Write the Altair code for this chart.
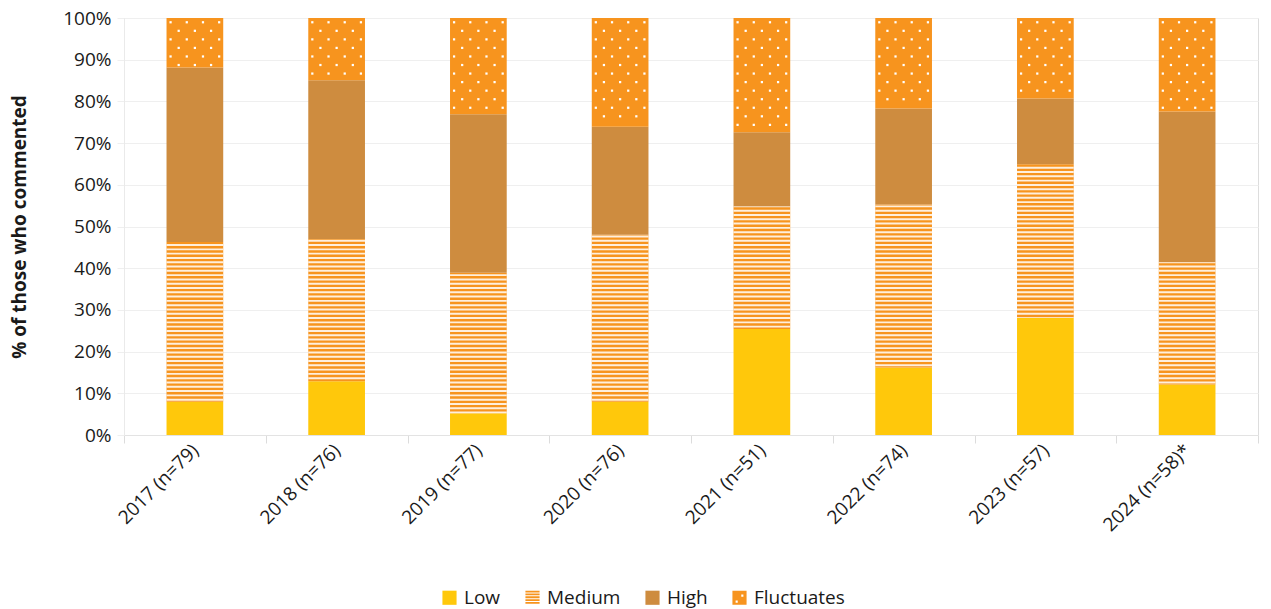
import altair as alt
import pandas as pd

# ---- data ----
years = ["2017 (n=79)", "2018 (n=76)", "2019 (n=77)", "2020 (n=76)",
         "2021 (n=51)", "2022 (n=74)", "2023 (n=57)", "2024 (n=58)*"]
categories = ["Low", "Medium", "High", "Fluctuates"]
low = [8.0, 12.9, 5.2, 8.0, 25.4, 16.2, 28.1, 12.1]
medium = [38.3, 34.1, 33.7, 40.0, 29.4, 39.1, 36.8, 29.3]
high = [41.8, 38.1, 38.0, 25.9, 17.8, 23.0, 15.8, 36.2]
fluctuates = [11.9, 14.9, 23.1, 26.1, 27.4, 21.7, 19.3, 22.4]
y_ticks = [0, 10, 20, 30, 40, 50, 60, 70, 80, 90, 100]

colors = ["#FFC80B", "#F7941E", "#CE8C3F", "#F7941E"]

# legend swatch shapes (plain square, striped square, square, square with dots)
SQUARE = "M-1,-1H1V1H-1Z"
STRIPED = " ".join(
    f"M-1,{-1 + j * 0.4:.2f}H1V{-1 + j * 0.4 + 0.26:.2f}H-1Z" for j in range(5))
DOTTED = ("M-1,-1H1V1H-1Z "
          "M0.25,-0.45V-0.15H0.55V-0.45Z "
          "M-0.55,0.4V0.7H-0.25V0.4Z")
shapes = [SQUARE, STRIPED, SQUARE, DOTTED]

BAR_FRAC = 0.4   # bar width as a share of the category slot

# ---- segment table ----
rows = []
for i, yr in enumerate(years):
    vals = [low[i], medium[i], high[i], fluctuates[i]]
    start = 0.0
    for c, v in zip(categories, vals):
        rows.append({"year": yr, "category": c, "start": start, "end": start + v,
                     "order": categories.index(c)})
        start += v
seg = pd.DataFrame(rows)

# ---- stripe texture for "Medium" (white gaps on orange) ----
P = 1.03
stripes = []
for i, yr in enumerate(years):
    s = low[i]
    e = low[i] + medium[i]
    k = 0
    while k * P < 100:
        a = k * P
        b = a + 0.45 * P
        lo, hi = max(a, s), min(b, e)
        if hi - lo > 0.05:
            stripes.append({"year": yr, "y0": lo, "y1": hi})
        k += 1
stripes = pd.DataFrame(stripes)

# ---- dot texture for "Fluctuates" (position in category-index units) ----
R = 2.05
NCOL = 7
dots = []
for i, yr in enumerate(years):
    b = low[i] + medium[i] + high[i]
    r = 0
    while True:
        yv = 100 - (r + 0.5) * R
        if yv < b + 0.6:
            break
        cols = [0, 2, 4, 6] if r % 2 == 0 else [1, 3, 5]
        for c in cols:
            xpos = i + 0.5 - BAR_FRAC / 2 + (c + 0.5) * BAR_FRAC / NCOL
            dots.append({"year": yr, "xpos": xpos, "y": yv})
        r += 1
dots = pd.DataFrame(dots)

FONT = "Open Sans"
TXT = "#1a1a1a"

x_scale = alt.Scale(type="band", domain=years, paddingInner=0, paddingOuter=0)
x_enc = alt.X("year:N", sort=years, title=None, scale=x_scale,
              axis=alt.Axis(labelAngle=-45, labelFontSize=19, labelColor=TXT,
                            labelFont=FONT, tickBand="extent", tickColor="#DCDCDC",
                            tickSize=8, domainColor="#E3E3E3", labelPadding=4))
x_plain = alt.X("year:N", sort=years, scale=x_scale)
y_scale = alt.Scale(domain=[0, 100], nice=False)

legend = alt.Legend(
    title=None, orient="none", direction="horizontal", legendX=316, legendY=570,
    symbolSize=200, symbolStrokeWidth=0, symbolOpacity=1,
    labelFontSize=19, labelFont=FONT, labelColor=TXT, labelOffset=5,
    columnPadding=22,
)

# invisible points that carry the legend (colour + swatch shape)
legend_layer = alt.Chart(seg).mark_point(filled=True, size=0, opacity=1).encode(
    x=x_plain,
    y=alt.Y("start:Q", scale=y_scale),
    color=alt.Color("category:N", sort=categories,
                    scale=alt.Scale(domain=categories, range=colors), legend=legend),
    shape=alt.Shape("category:N", sort=categories,
                    scale=alt.Scale(domain=categories, range=shapes), legend=legend),
)

bars = alt.Chart(seg).mark_bar(opacity=1, width=alt.RelativeBandSize(BAR_FRAC)).encode(
    x=x_enc,
    y=alt.Y("start:Q", scale=y_scale, title="% of those who commented",
            axis=alt.Axis(values=y_ticks, labelExpr="datum.value + '%'",
                          labelFontSize=19, labelFont=FONT, labelColor=TXT,
                          titleFontSize=19, titleFont=FONT, titleFontWeight="bold",
                          titleColor=TXT, titlePadding=33,
                          gridColor="#EFEFEF", tickColor="#EFEFEF", tickSize=7,
                          domainColor="#EAEAEA", labelPadding=6)),
    y2="end:Q",
    color=alt.Color("category:N", sort=categories,
                    scale=alt.Scale(domain=categories, range=colors), legend=None),
    order="order:Q",
)

stripe_layer = alt.Chart(stripes).mark_bar(
    color="#FFFFFF", opacity=0.85, width=alt.RelativeBandSize(BAR_FRAC)).encode(
    x=x_plain,
    y=alt.Y("y0:Q", scale=y_scale),
    y2="y1:Q",
)

base = alt.layer(legend_layer, bars, stripe_layer)

dot_layer = alt.Chart(dots).mark_point(shape="square", filled=True, size=5,
                                       color="#FFFFFF", opacity=1).encode(
    x=alt.X("xpos:Q", scale=alt.Scale(domain=[0, len(years)], nice=False, zero=False),
            axis=None),
    y=alt.Y("y:Q", scale=y_scale),
)

chart = alt.layer(base, dot_layer).resolve_scale(x="independent").properties(
    width=1134, height=417,
    autosize=alt.AutoSizeParams(type="none"),
    padding={"left": 124, "top": 18, "right": 13, "bottom": 174},
).configure_view(stroke=None).configure(font=FONT)

chart.save("out.html", embed_options={"renderer": "svg", "actions": False})
